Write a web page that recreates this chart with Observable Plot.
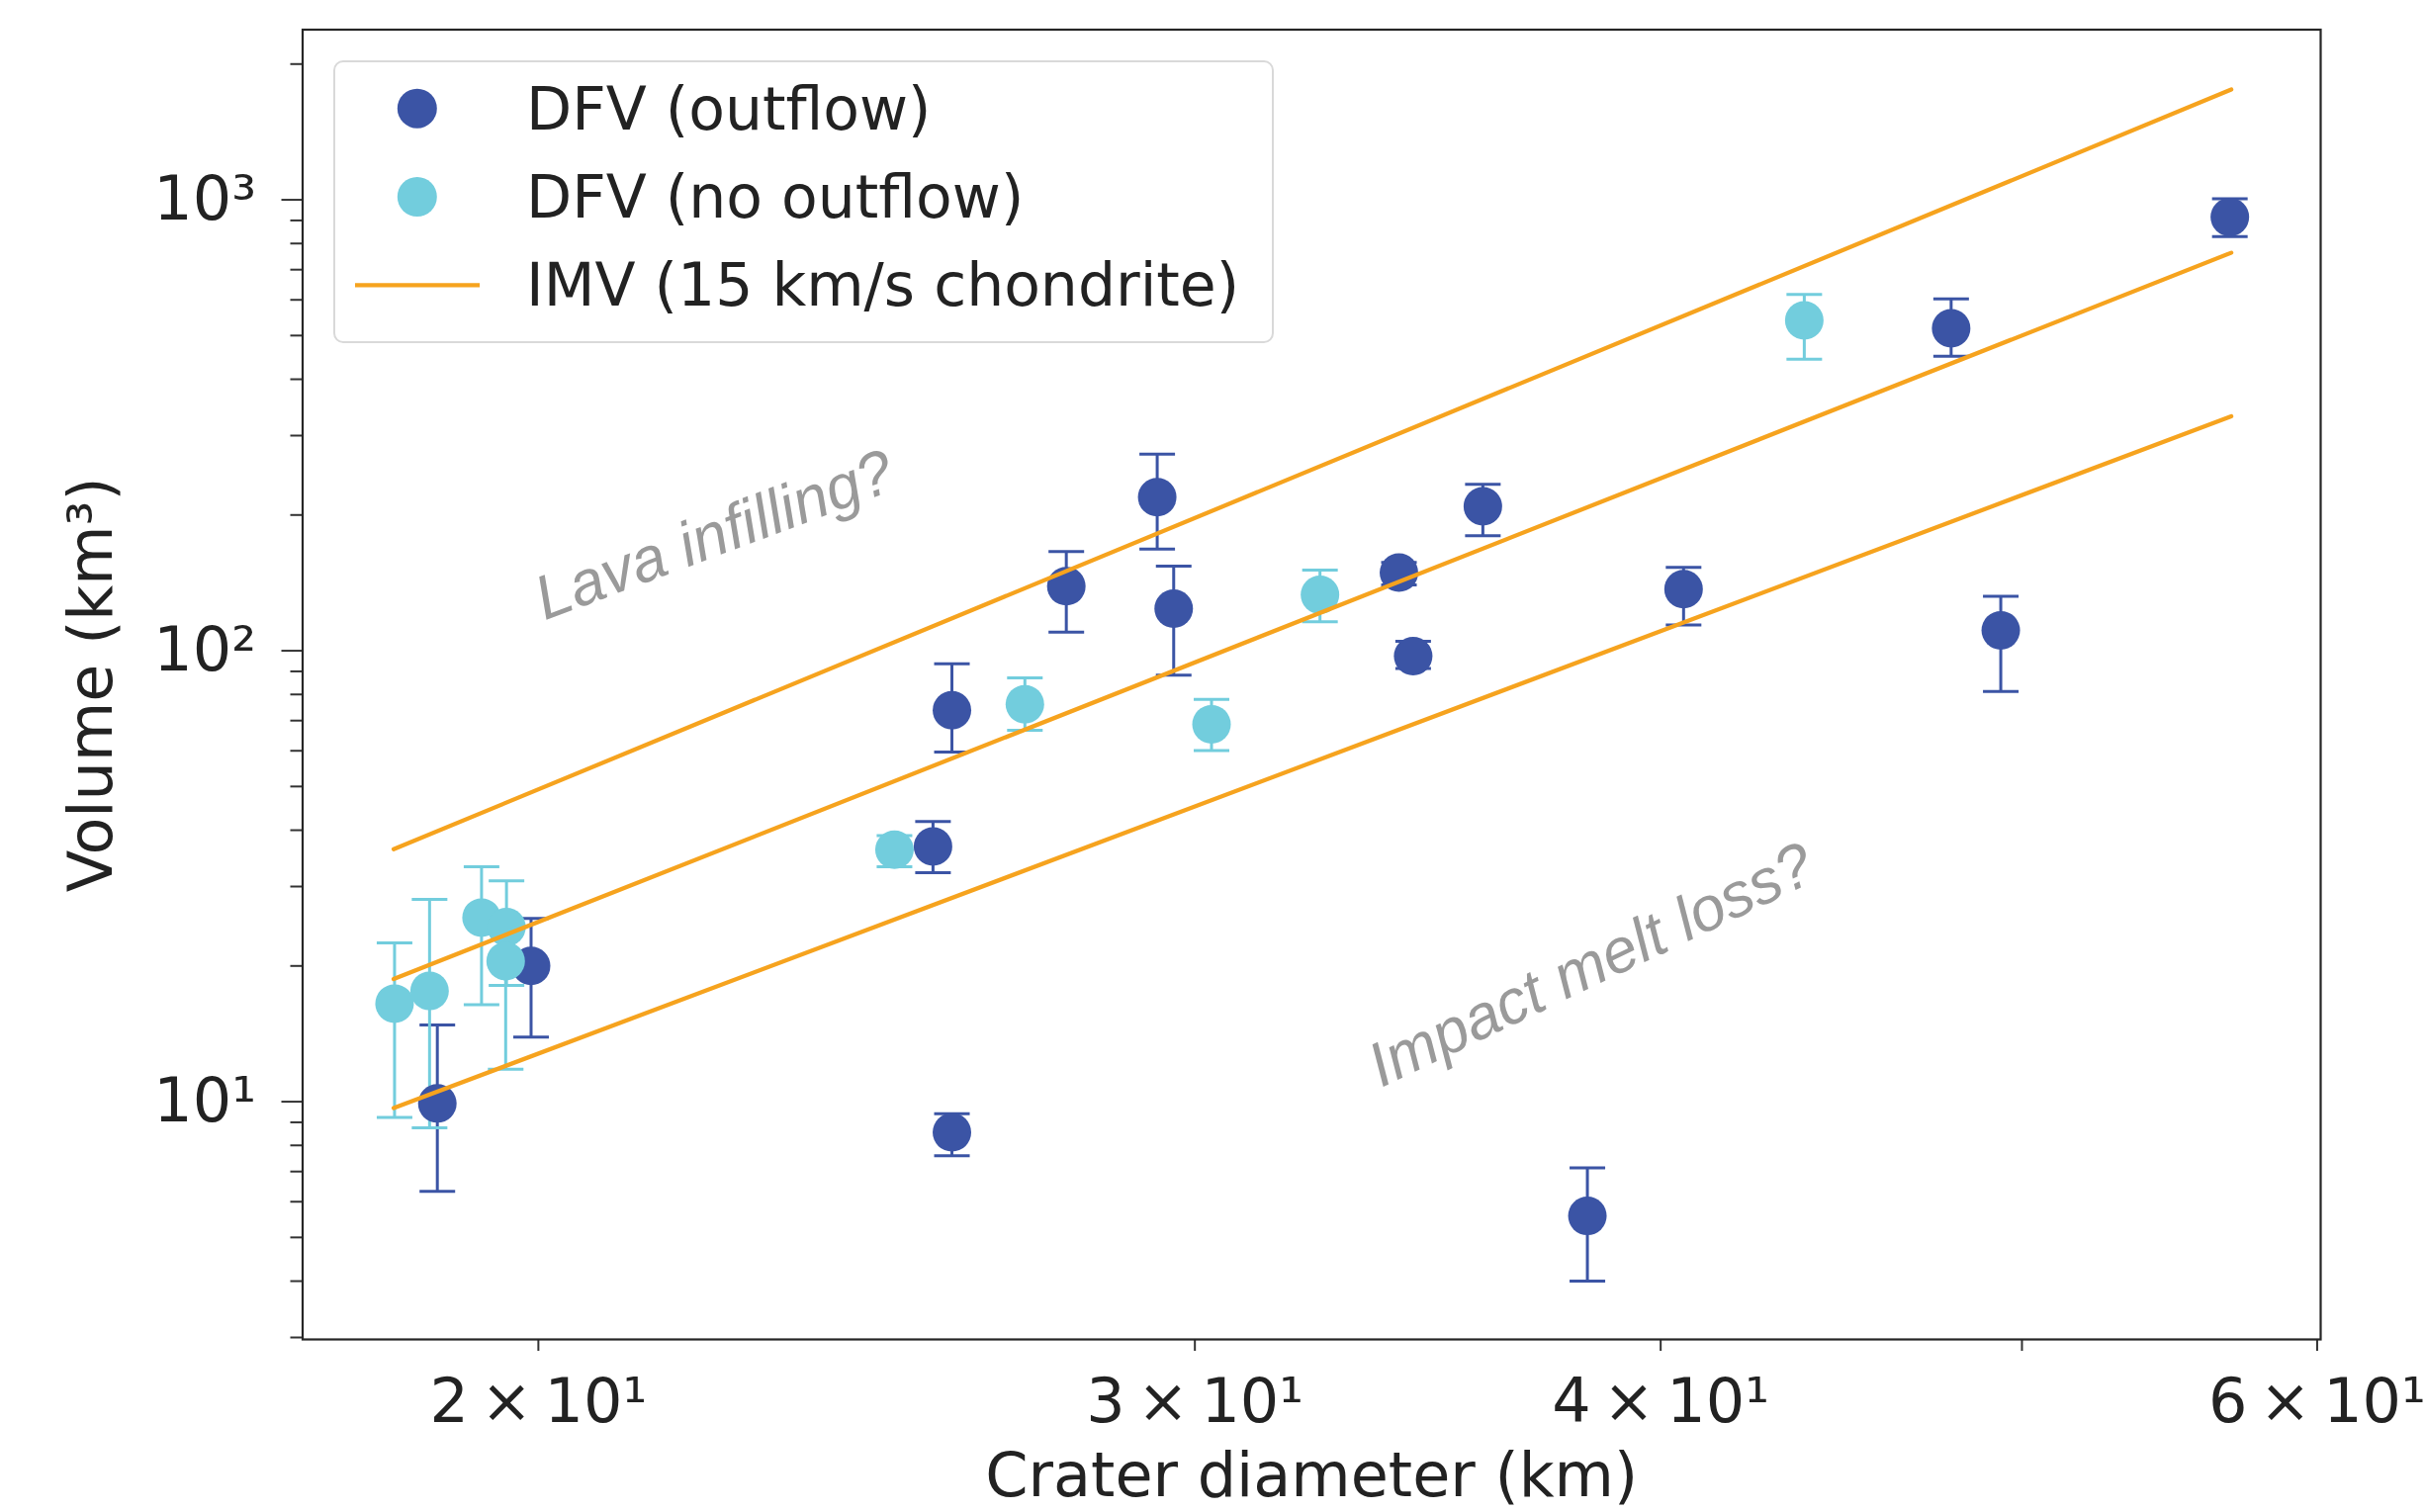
<!DOCTYPE html>
<html>
<head>
<meta charset="utf-8">
<script src="https://cdn.jsdelivr.net/npm/d3@7"></script>
<script src="https://cdn.jsdelivr.net/npm/@observablehq/plot@0.6"></script>
<style>
  html, body { margin: 0; padding: 0; background: #fff; }
  #wrap { position: relative; width: 2452px; height: 1529px; overflow: hidden; background: #fff; }
  #legend { position: absolute; left: 337px; top: 61px; width: 951px; height: 286px; box-sizing: border-box;
            border: 2px solid #d9d9d9; border-radius: 10px; background: rgba(255,255,255,0.85); }
  #legend svg { position: absolute; left: 0; top: 0; }
</style>
</head>
<body>
<div id="wrap"><div id="chart"></div><div id="legend"></div></div>
<script>
// ---- Data: DFV with outflow ----
const outflowD  = [18.79, 19.91, 25.52, 25.82, 25.82, 27.71, 29.31, 29.61, 34.03, 34.33, 35.84, 38.23, 40.57, 47.86, 49.35, 56.85];
const outflowV  = [9.91, 20.0, 36.8, 73.8, 8.55, 139, 219, 124, 149, 97.3, 209, 5.58, 137, 519, 111, 916];
const outflowLo = [6.33, 13.9, 32.2, 59.6, 7.59, 110, 168, 88.3, 140, 91.3, 180, 4.00, 114, 450, 81.2, 829];
const outflowHi = [14.8, 25.5, 41.8, 93.5, 9.40, 166, 273, 154, 157, 105, 234, 7.13, 153, 603, 132, 1005];

// ---- Data: DFV without outflow ----
const noOutflowD  = [18.30, 18.70, 19.31, 19.61, 19.60, 24.92, 27.01, 30.31, 32.41, 43.71];
const noOutflowV  = [16.5, 17.6, 25.6, 24.4, 20.5, 36.2, 76.1, 68.7, 133, 540];
const noOutflowLo = [9.23, 8.75, 16.4, 18.1, 11.8, 33.2, 66.6, 60.1, 116, 443];
const noOutflowHi = [22.5, 28.1, 33.2, 30.9, 25.3, 38.9, 87.1, 78.0, 151, 617];

// ---- IMV (15 km/s chondrite) lines: endpoints ----
const imvD      = [18.29, 56.90];
const imvUpper  = [36.3, 1756];
const imvMiddle = [18.7, 763];
const imvLower  = [9.68, 331];

// ---- Annotations ----
const annotationText  = ["Lava infilling?", "Impact melt loss?"];
const annotationD     = [22.30, 38.32];
const annotationV     = [180, 20.05];
const annotationAngle = [-20.5, -25.5];

// ---- Ticks ----
const xTicks      = [20, 30, 40, 50, 60];
const xTickLabels = ["2\u2009×\u200910¹", "3\u2009×\u200910¹", "4\u2009×\u200910¹", "", "6\u2009×\u200910¹"];
const yMajorTicks  = [10, 100, 1000];
const yMajorLabels = ["10¹", "10²", "10³"];
const yMinorTicks  = [3,4,5,6,7,8,9,20,30,40,50,60,70,80,90,200,300,400,500,600,700,800,900,2000];

// ---- Legend ----
const legendLabels = ["DFV (outflow)", "DFV (no outflow)", "IMV (15 km/s chondrite)"];

const xLabel = "Crater diameter (km)";
const yLabel = "Volume (km³)";

const DARK = "#3b54a5", CYAN = "#72cddd", ORANGE = "#f6a31e", GRAY = "#9a9a9a", INK = "#222222";

const outflow = outflowD.map((d, i) => ({d, v: outflowV[i], lo: outflowLo[i], hi: outflowHi[i]}));
const noOutflow = noOutflowD.map((d, i) => ({d, v: noOutflowV[i], lo: noOutflowLo[i], hi: noOutflowHi[i]}));
const imv = [["upper", imvUpper], ["middle", imvMiddle], ["lower", imvLower]]
  .flatMap(([k, vals]) => imvD.map((d, i) => ({line: k, d, v: vals[i]})));
const annotations = annotationText.map((t, i) => ({text: t, d: annotationD[i], v: annotationV[i], angle: annotationAngle[i]}));
const xLabelMap = new Map(xTicks.map((t, i) => [t, xTickLabels[i]]));
const yLabelMap = new Map(yMajorTicks.map((t, i) => [t, yMajorLabels[i]]));

const capSymbol = {
  draw(ctx, size) {
    const r = Math.sqrt(size / Math.PI);
    ctx.moveTo(-r, 0);
    ctx.lineTo(r, 0);
  }
};

function errorMarks(data, color) {
  return [
    Plot.ruleX(data, {x: "d", y1: "lo", y2: "hi", stroke: color, strokeWidth: 3}),
    Plot.dot(data, {x: "d", y: "lo", r: 18, symbol: capSymbol, stroke: color, strokeWidth: 3, fill: "none"}),
    Plot.dot(data, {x: "d", y: "hi", r: 18, symbol: capSymbol, stroke: color, strokeWidth: 3, fill: "none"})
  ];
}

const chart = Plot.plot({
  width: 2452,
  height: 1529,
  marginLeft: 305.5,
  marginRight: 106,
  marginTop: 29.5,
  marginBottom: 175,
  style: {fontFamily: "DejaVu Sans", fontSize: "62px", color: INK, background: "white", overflow: "visible"},
  x: {type: "log", domain: [17.29, 60.13], label: null},
  y: {type: "log", domain: [2.97, 2384], label: null},
  marks: [
    ...errorMarks(outflow, DARK),
    ...errorMarks(noOutflow, CYAN),
    Plot.dot(outflow, {x: "d", y: "v", r: 19.5, fill: DARK}),
    Plot.dot(noOutflow, {x: "d", y: "v", r: 19.5, fill: CYAN}),
    Plot.text(annotations, {x: "d", y: "v", text: "text", rotate: "angle", fontSize: 63,
      fontFamily: "Liberation Sans", fontStyle: "italic", fill: GRAY, textAnchor: "middle", lineAnchor: "middle"}),
    Plot.line(imv, {x: "d", y: "v", z: "line", stroke: ORANGE, strokeWidth: 4.3}),
    Plot.axisX(xTicks, {tickSize: 12, tickPadding: 27, tickFormat: d => xLabelMap.get(d), fontSize: 62,
      strokeWidth: 2, stroke: "#333", label: null}),
    Plot.axisY(yMajorTicks, {tickSize: 21, tickPadding: 26, tickFormat: d => yLabelMap.get(d), fontSize: 62,
      strokeWidth: 2, stroke: "#333", label: null}),
    Plot.axisY(yMinorTicks, {tickSize: 12, tickFormat: () => "", strokeWidth: 2, stroke: "#333", label: null}),
    Plot.text([xLabel], {text: d => d, frameAnchor: "bottom", dy: 139, textAnchor: "middle", lineAnchor: "middle", fontSize: 62, fill: INK}),
    Plot.text([yLabel], {text: d => d, frameAnchor: "left", dx: -213, rotate: -90, textAnchor: "middle", lineAnchor: "middle", fontSize: 62, fill: INK}),
    Plot.frame({stroke: "#262626", strokeWidth: 2.2})
  ]
});
document.getElementById("chart").appendChild(chart);

// ---- Legend (inside plot area, upper left) ----
const lg = d3.select("#legend").append("svg").attr("width", 947).attr("height", 282);
const rowBaselines = [67.7, 157, 246.3];
const markerY = [46.7, 136, 225.3];
legendLabels.forEach((label, i) => {
  if (i < 2) {
    lg.append("circle").attr("cx", 82.8).attr("cy", markerY[i]).attr("r", 20).attr("fill", i === 0 ? DARK : CYAN);
  } else {
    lg.append("line").attr("x1", 20).attr("x2", 146).attr("y1", markerY[i]).attr("y2", markerY[i])
      .attr("stroke", ORANGE).attr("stroke-width", 4.3);
  }
  lg.append("text").attr("x", 193).attr("y", rowBaselines[i]).attr("font-family", "DejaVu Sans")
    .attr("font-size", 60).attr("fill", INK).text(label);
});
</script>
</body>
</html>
